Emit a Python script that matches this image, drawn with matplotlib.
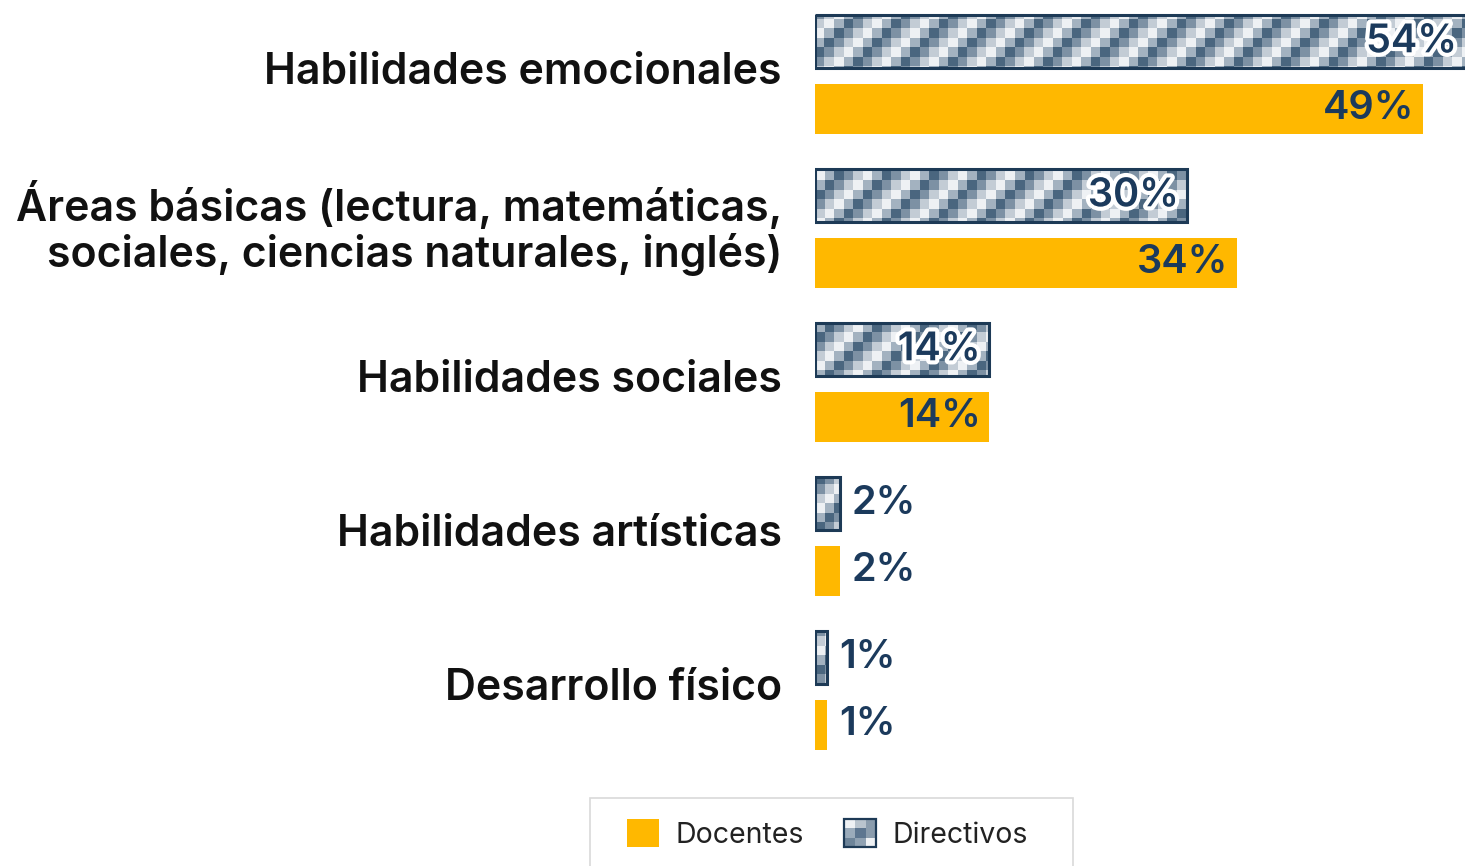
import numpy as np
import matplotlib
matplotlib.use("Agg")
import matplotlib.pyplot as plt
from matplotlib.patches import Rectangle, Patch
from matplotlib.legend_handler import HandlerBase
from matplotlib.colors import ListedColormap
import matplotlib.patheffects as pe

# ---------------- data ----------------
categories = [
    "Habilidades emocionales",
    "Áreas básicas (lectura, matemáticas,\nsociales, ciencias naturales, inglés)",
    "Habilidades sociales",
    "Habilidades artísticas",
    "Desarrollo físico",
]
directivos = [54, 30, 14, 2, 1]
docentes = [49, 34, 14, 2, 1]
series_names = ["Docentes", "Directivos"]

# ---------------- style ----------------
YELLOW = "#FFB800"
NAVY = "#1d3a56"
LABEL = "#1b3a5c"
FONT = ["Inter", "DejaVu Sans"]
plt.rcParams["font.family"] = FONT

W, H, DPI = 1465, 866, 100
fig = plt.figure(figsize=(W / DPI, H / DPI), dpi=DPI)
ax_left = 815
ax = fig.add_axes([ax_left / W, 0, 1 - ax_left / W, 1])

PX = 12.4            # pixels per percent
SP = 154.0           # pixels per category step
Y0 = 75.3            # pixel center of first category
XMAX = (W - ax_left) / PX
ytop = -Y0 / SP
ybot = (H - Y0) / SP

off = 33.5 / SP
h_dir = 53 / SP
h_doc = 50 / SP

idx = np.arange(len(categories))
bars_dir = ax.barh(idx - off, directivos, height=h_dir, color="none",
                   edgecolor=NAVY, linewidth=2.2, zorder=3)
bars_doc = ax.barh(idx + off, docentes, height=h_doc, color=YELLOW,
                   edgecolor="none", zorder=2)

# pixel-checker texture for Directivos bars
cell = 9.5
ncols = int(np.ceil((W - ax_left) / cell)) + 1
nrows = int(np.ceil(H / cell)) + 1
rr, cc = np.mgrid[0:nrows, 0:ncols]
tex = (rr + cc) % 5
tex_cmap = ListedColormap(["#4a667f", "#7d91a4", "#c3ccd5", "#eef1f4", "#a3b2c0"])
extent = (0, ncols * cell / PX, ytop + nrows * cell / SP, ytop)
for b in bars_dir:
    clipper = Rectangle(b.get_xy(), b.get_width(), b.get_height(),
                        transform=ax.transData, facecolor="none", edgecolor="none")
    im = ax.imshow(tex, cmap=tex_cmap, vmin=0, vmax=4, extent=extent,
                   origin="upper", aspect="auto", interpolation="nearest", zorder=1)
    im.set_clip_path(clipper)

ax.set_xlim(0, XMAX)
ax.set_ylim(ybot, ytop)

# value labels
pad_in = 8 / PX
pad_out = 12 / PX
vfs = 28.5
vw = "semibold"
for i, v in enumerate(directivos):
    stroke = [pe.withStroke(linewidth=6, foreground="white")]
    if v >= 10:
        ax.text(min(v, XMAX) - pad_in, i - off, f"{v}%", ha="right", va="center",
                fontsize=vfs, fontweight=vw, color=LABEL, zorder=5,
                path_effects=stroke)
    else:
        ax.text(v + pad_out, i - off, f"{v}%", ha="left", va="center",
                fontsize=vfs, fontweight=vw, color=LABEL, zorder=5)
for i, v in enumerate(docentes):
    if v >= 10:
        ax.text(min(v, XMAX) - pad_in, i + off, f"{v}%", ha="right", va="center",
                fontsize=vfs, fontweight=vw, color=LABEL, zorder=5)
    else:
        ax.text(v + pad_out, i + off, f"{v}%", ha="left", va="center",
                fontsize=vfs, fontweight=vw, color=LABEL, zorder=5)

# category labels
shift = 7 / SP
for i, cat in enumerate(categories):
    ax.text(-33 / PX, i - shift, cat, ha="right", va="center_baseline",
            fontsize=30.8, fontweight="semibold", color="#111111", linespacing=1.1,
            clip_on=False)
ax.set_yticks([])
ax.set_xticks([])
for s in ax.spines.values():
    s.set_visible(False)
ax.patch.set_alpha(0)


# legend
class CheckerHandler(HandlerBase):
    def create_artists(self, legend, orig_handle, xdescent, ydescent,
                       width, height, fontsize, trans):
        cols = [["#eef1f4", "#b9c4ce", "#8a9cad"],
                ["#9aabbb", "#5d7690", "#8a9cad"],
                ["#6d8499", "#8fa1b2", "#eef1f4"]]
        n = 3
        arts = []
        for r in range(n):
            for c in range(n):
                arts.append(Rectangle((-xdescent + c * width / n,
                                       -ydescent + (n - 1 - r) * height / n),
                                      width / n, height / n, facecolor=cols[r][c],
                                      edgecolor="none", transform=trans))
        arts.append(Rectangle((-xdescent, -ydescent), width, height,
                              facecolor="none", edgecolor=NAVY, lw=1.6,
                              transform=trans))
        return arts


h_doc_leg = Patch(facecolor=YELLOW, edgecolor="none")
h_dir_leg = Patch(facecolor="#9aabbb", edgecolor=NAVY)
lfs = 20.5
leg = fig.legend([h_doc_leg, h_dir_leg], series_names, loc="center",
                 bbox_to_anchor=(827.5 / W, 1 - 834 / H), ncol=2, frameon=False,
                 fontsize=lfs, handlelength=32 / (lfs * 1.389),
                 handleheight=32 / (lfs * 1.389),
                 handletextpad=16 / (lfs * 1.389), columnspacing=41 / (lfs * 1.389),
                 borderpad=0, handler_map={h_dir_leg: CheckerHandler()})
for t in leg.get_texts():
    t.set_color("#222222")

fig.patches.append(Rectangle((590 / W, -0.05), 483 / W, 0.05 + 1 - 798 / H,
                             transform=fig.transFigure, facecolor="none",
                             edgecolor="#d9d9d9", lw=1.2))

fig.savefig("out.png", dpi=DPI)
